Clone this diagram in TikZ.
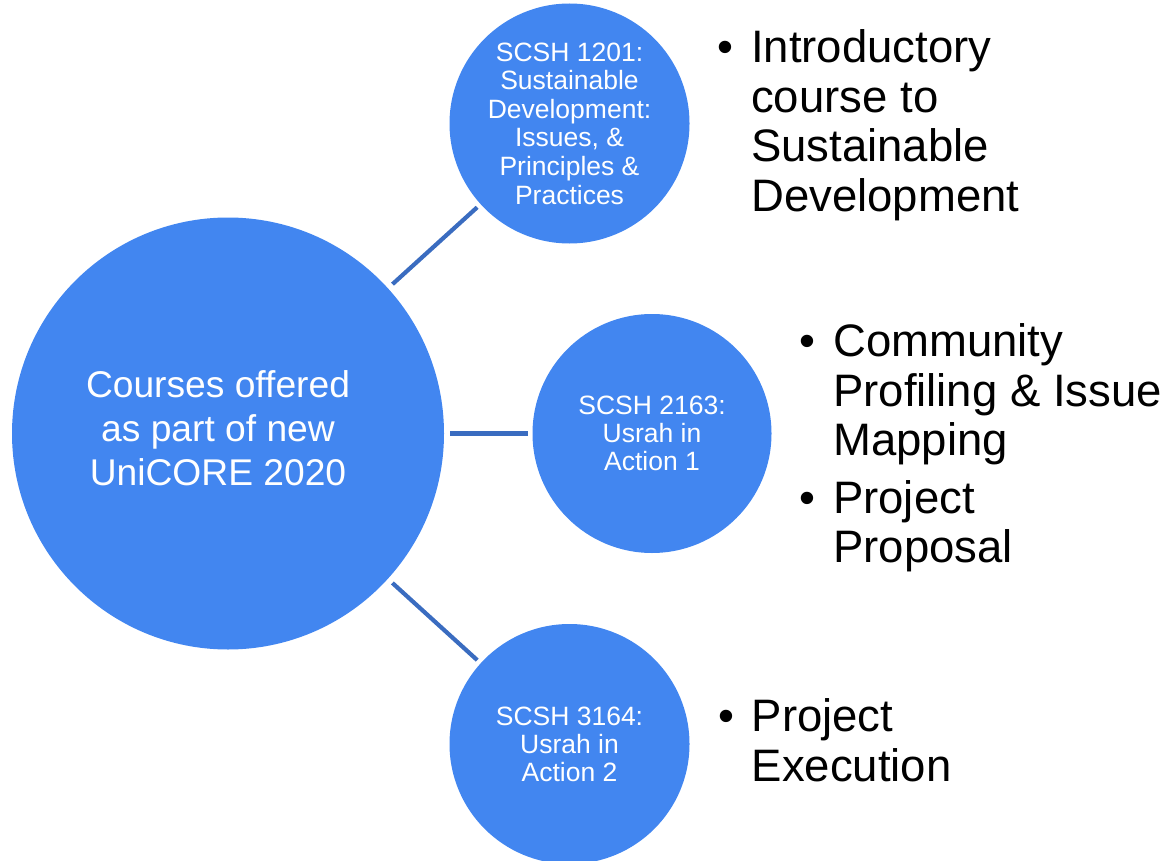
\documentclass[tikz,border=0pt]{standalone}
\usepackage{fontspec}
\setmainfont{Liberation Sans}
\definecolor{cfill}{RGB}{66,134,240}
\definecolor{cline}{RGB}{58,108,192}
\begin{document}
\begin{tikzpicture}[x=1pt,y=-1pt,
  bigcirc/.style={circle,fill=cfill,inner sep=0pt,minimum size=432pt},
  smallcirc/.style={circle,fill=cfill,inner sep=0pt,minimum size=240pt,text=white,align=center,font=\fontsize{26.5}{28.6}\selectfont},
  maintext/.style={text=white,align=center,inner sep=0pt,font=\fontsize{37.2}{44}\selectfont},
  bulletlist/.style={anchor=base west,inner sep=0pt,font=\fontsize{45.5}{49.5}\selectfont},
  conn/.style={draw=cline,line width=4.2pt}
]
\useasboundingbox (0,0) rectangle (1169,861);
\clip (0,0) rectangle (1169,861);

\node[bigcirc] (main) at (228,433.5) {};
\node[maintext] (maintxt) at (218,428) {Courses offered\\as part of new\\UniCORE 2020};

\node[smallcirc] (c1) at (569.5,123.5) {SCSH 1201:\\Sustainable\\Development:\\Issues, \&\\Principles \&\\Practices};
\node[smallcirc,minimum size=239pt,font=\fontsize{26.5}{28}\selectfont] (c2) at (652,433.5) {SCSH 2163:\\Usrah in\\Action 1};
\node[smallcirc,font=\fontsize{26.5}{28}\selectfont] (c3) at (569.5,744) {SCSH 3164:\\Usrah in\\Action 2};

\draw[conn,shorten <=6pt,shorten >=4.5pt] (main) -- (c1);
\draw[conn,shorten <=6pt,shorten >=4.8pt] (main) -- (c2);
\draw[conn,shorten <=6pt,shorten >=4.5pt] (main) -- (c3);

\node[bulletlist] (l1) at (717.3,62.7) {\begin{tabular}[t]{@{}p{33.7pt}@{}l@{}}
•&Introductory\\
 &course to\\
 &Sustainable\\
 &Development
\end{tabular}};
\node[bulletlist] (l2) at (799.3,356.7) {\begin{tabular}[t]{@{}p{33.7pt}@{}l@{}}
•&Community\\
 &Profiling \& Issue\\
 &Mapping\\[8pt]
•&Project\\
 &Proposal
\end{tabular}};
\node[bulletlist] (l3) at (717.8,731.7) {\begin{tabular}[t]{@{}p{33.7pt}@{}l@{}}
•&Project\\
 &Execution
\end{tabular}};
\end{tikzpicture}
\end{document}
